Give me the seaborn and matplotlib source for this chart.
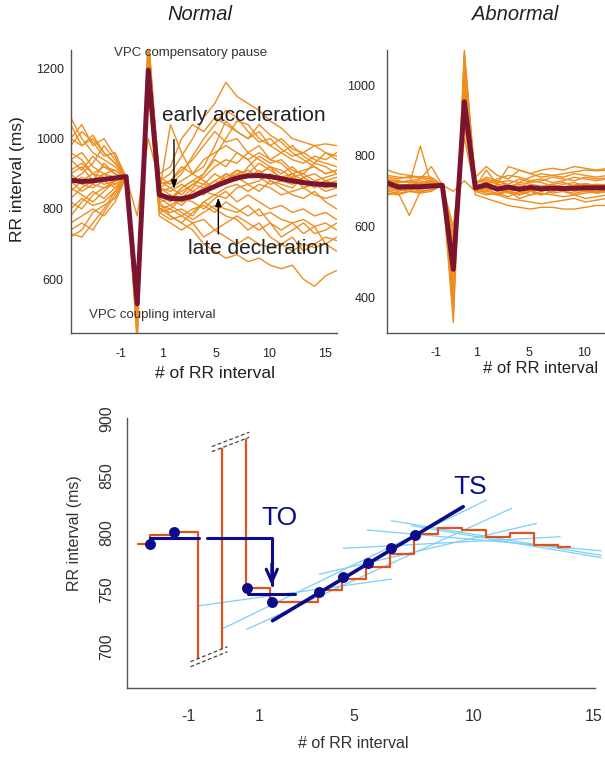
import numpy as np
import pandas as pd
import matplotlib
matplotlib.use("Agg")
import matplotlib.pyplot as plt
import seaborn as sns
from matplotlib.patches import Polygon

sns.set_style("white")
plt.rcParams["font.family"] = ["Liberation Sans", "DejaVu Sans"]

# ------------------------------------------------------------------ data
# top panels: RR interval index (0 = VPC coupling interval, 1 = compensatory pause)
normal_k = list(range(-6, 19))
normal_traces = [
    [1060, 1000, 960, 940, 920, 890, 430, 1290, 880, 900, 950, 1000, 1060, 1100, 1160, 1120, 1100, 1080, 1050, 1030, 1000, 990, 980, 985, 980],
    [1000, 980, 1010, 960, 930, 890, 470, 1270, 850, 1040, 960, 900, 920, 980, 1050, 1020, 1000, 1040, 1010, 990, 960, 940, 920, 900, 910],
    [900, 920, 880, 930, 900, 890, 500, 1210, 820, 780, 760, 740, 700, 680, 660, 670, 650, 660, 640, 630, 640, 600, 580, 610, 625],
    [730, 720, 760, 800, 850, 890, 540, 1180, 800, 780, 760, 790, 820, 800, 780, 770, 740, 760, 720, 700, 720, 680, 700, 720, 710],
    [850, 880, 900, 870, 880, 890, 560, 1150, 840, 820, 860, 880, 900, 940, 920, 960, 940, 900, 920, 880, 900, 860, 880, 870, 880],
    [940, 960, 920, 900, 910, 890, 420, 1300, 860, 840, 820, 850, 870, 860, 900, 880, 920, 950, 930, 940, 910, 900, 930, 920, 900],
    [820, 800, 840, 860, 870, 890, 510, 1200, 800, 790, 800, 780, 820, 840, 830, 860, 870, 850, 880, 860, 840, 830, 850, 820, 800],
    [880, 900, 930, 980, 940, 890, 460, 1240, 830, 810, 830, 860, 900, 950, 1000, 1050, 1040, 1000, 980, 960, 940, 930, 950, 940, 960],
    [760, 780, 800, 780, 820, 890, 530, 1170, 790, 770, 780, 800, 810, 790, 820, 800, 780, 800, 760, 740, 760, 730, 750, 700, 720],
    [900, 870, 860, 880, 860, 890, 780, 1000, 880, 860, 880, 900, 880, 860, 880, 900, 910, 890, 870, 880, 890, 860, 870, 880, 860],
    [980, 1020, 990, 950, 960, 890, 440, 1280, 870, 880, 910, 940, 980, 1020, 990, 1000, 960, 980, 940, 960, 980, 950, 930, 960, 940],
    [860, 840, 820, 850, 880, 890, 550, 1190, 820, 830, 810, 840, 860, 880, 870, 900, 890, 910, 880, 870, 860, 890, 870, 850, 860],
    [940, 910, 950, 920, 900, 890, 490, 1230, 850, 860, 840, 870, 890, 920, 940, 930, 960, 940, 920, 900, 920, 890, 900, 880, 870],
    [800, 830, 810, 820, 850, 890, 570, 1140, 810, 800, 830, 820, 800, 830, 850, 820, 840, 820, 800, 810, 790, 800, 780, 790, 770],
    [870, 890, 870, 900, 890, 890, 520, 1210, 860, 850, 870, 850, 840, 870, 890, 910, 890, 900, 920, 910, 890, 900, 880, 890, 900],
    [1040, 980, 1000, 960, 930, 890, 450, 1260, 890, 870, 900, 950, 1000, 1040, 1080, 1060, 1020, 990, 1000, 970, 950, 960, 940, 930, 920],
    [740, 760, 740, 790, 840, 890, 540, 1160, 780, 760, 740, 760, 720, 740, 760, 780, 760, 740, 760, 720, 740, 760, 730, 740, 760],
    [910, 930, 900, 890, 880, 890, 480, 1250, 850, 830, 860, 880, 870, 900, 880, 910, 900, 930, 910, 890, 900, 880, 860, 880, 890],
    [830, 860, 880, 900, 870, 890, 510, 1220, 830, 840, 820, 830, 850, 840, 860, 870, 850, 870, 860, 840, 850, 860, 840, 830, 840],
    [960, 940, 900, 920, 910, 890, 500, 1200, 860, 880, 920, 900, 940, 960, 980, 960, 940, 960, 940, 930, 900, 910, 920, 900, 910],
    [780, 820, 850, 830, 860, 890, 530, 1180, 800, 810, 790, 770, 790, 810, 800, 790, 810, 780, 790, 770, 760, 770, 750, 760, 740],
    [880, 850, 870, 860, 880, 890, 560, 1190, 840, 830, 850, 870, 860, 880, 900, 890, 870, 880, 900, 880, 870, 890, 870, 860, 870],
    [1000, 1040, 980, 1000, 950, 890, 470, 1250, 900, 920, 1000, 1040, 1020, 1060, 1040, 1020, 1000, 1020, 980, 1000, 970, 960, 980, 960, 950],
    [720, 740, 790, 810, 830, 890, 520, 1170, 790, 800, 780, 760, 770, 740, 720, 700, 720, 700, 690, 700, 680, 700, 690, 700, 680],
]
normal_mean = [882, 878, 880, 884, 888, 892, 530, 1195, 840, 830, 829, 836, 850, 864,
               877, 888, 894, 895, 892, 886, 880, 875, 871, 869, 868]

abn_k = list(range(-6, 15))
abn_traces = [
    [745, 740, 738, 742, 740, 718, 380, 1100, 720, 740, 730, 720, 735, 725, 730, 740, 735, 730, 740, 735, 738],
    [700, 695, 632, 700, 705, 718, 420, 1060, 700, 710, 690, 700, 695, 705, 690, 700, 710, 700, 705, 695, 700],
    [720, 715, 720, 828, 720, 718, 450, 1020, 715, 725, 710, 705, 715, 700, 710, 720, 710, 705, 700, 710, 705],
    [730, 725, 730, 735, 770, 718, 500, 980, 725, 730, 720, 770, 760, 750, 740, 745, 750, 755, 760, 758, 760],
    [690, 695, 700, 698, 705, 718, 540, 930, 690, 680, 670, 660, 655, 650, 655, 655, 650, 650, 655, 660, 660],
    [735, 730, 725, 720, 725, 718, 600, 880, 705, 700, 695, 700, 690, 700, 710, 695, 700, 705, 700, 695, 700],
    [710, 712, 708, 715, 710, 718, 470, 1000, 700, 710, 705, 695, 690, 700, 705, 710, 700, 695, 700, 705, 700],
    [760, 750, 745, 740, 735, 718, 350, 1090, 730, 725, 735, 745, 740, 730, 735, 725, 730, 740, 735, 730, 735],
    [700, 705, 710, 705, 712, 718, 700, 730, 700, 690, 695, 685, 700, 690, 695, 690, 685, 690, 680, 685, 690],
    [725, 720, 715, 725, 730, 718, 520, 950, 710, 720, 715, 710, 725, 720, 715, 710, 720, 725, 715, 720, 718],
    [715, 710, 705, 710, 715, 718, 560, 900, 705, 695, 690, 680, 675, 670, 665, 670, 675, 680, 670, 675, 680],
    [740, 735, 742, 738, 728, 718, 430, 1040, 712, 760, 720, 715, 710, 730, 725, 715, 712, 718, 722, 716, 720],
    [705, 700, 710, 700, 705, 718, 490, 960, 705, 700, 720, 700, 680, 690, 700, 710, 700, 690, 695, 700, 705],
    [730, 728, 725, 730, 722, 718, 330, 1080, 725, 735, 725, 730, 725, 740, 750, 745, 740, 750, 745, 740, 745],
    [695, 690, 700, 695, 700, 718, 580, 850, 700, 705, 710, 700, 705, 700, 690, 700, 705, 710, 700, 698, 702],
    [720, 725, 730, 722, 718, 718, 460, 990, 715, 720, 730, 715, 720, 710, 715, 720, 725, 715, 720, 718, 715],
    [710, 705, 700, 712, 716, 718, 400, 1030, 740, 770, 745, 735, 760, 750, 760, 765, 760, 770, 765, 760, 765],
]
abn_mean = [724, 712, 713, 713, 715, 717, 480, 953, 710, 718, 706, 712, 706, 711, 707,
            709, 708, 709, 710, 710, 710]

normal_tick_pos = [-1.49, 2.27, 7.08, 11.92, 16.95]
normal_tick_labels = ["-1", "1", "5", "10", "15"]
abn_tick_pos = [-1.57, 2.13, 6.9, 11.9]
abn_tick_labels = ["-1", "1", "5", "10"]

# bottom panel: schematic tachogram (step centres / RR values in ms)
rr_x = list(range(-4, 15))
rr_vals = [790, 797.8, 800.4, 560, 1150, 751, 739.5, 739.5, 749.6, 759, 770, 781,
           798.7, 804, 802, 796.5, 799.8, 789, 787.6]
dot_x = [-3.5, -2.5, 0.52, 1.56, 3.55, 4.55, 5.59, 6.55, 7.55]
dot_y = [790, 800.7, 751.7, 739.4, 748.2, 760.8, 773.6, 786.2, 797.8]
to_pre_mean = 795
to_post_mean = 746
ts_x = [1.6, 9.55]
ts_y = [722.8, 822.6]
lb_x0 = [-1.46, -0.46, 0.52, 3.55, 4.55, 5.55, 6.55, 7.4]
lb_y0 = [735.9, 716.0, 715.2, 763.5, 786.2, 802.2, 810.3, 806.0]
lb_x1 = [6.55, 10.53, 11.57, 12.61, 13.59, 15.3, 15.3, 15.3]
lb_y1 = [759.2, 828.5, 821.2, 808.0, 796.3, 784.0, 780.0, 778.0]
bottom_tick_pos = [-1.91, 1.05, 5, 10, 15]
bottom_tick_labels = ["-1", "1", "5", "10", "15"]

ORANGE = "#EE8E1F"
MAROON = "#7B1430"
STEP = "#E0521E"
NAVY = "#0B0B8C"
LIGHTBLUE = "#7DCFF6"
SPINE = "#555555"
TXT = "#222222"


def long_df(k, traces):
    rows = []
    for i, t in enumerate(traces):
        for kk, v in zip(k, t):
            rows.append((i, kk, v))
    return pd.DataFrame(rows, columns=["trace", "k", "rr"])


W, H = 605, 757
fig = plt.figure(figsize=(W / 100, H / 100), dpi=100)


def fig_rect(x0, y0, x1, y1):
    return [x0 / W, 1 - y1 / H, (x1 - x0) / W, (y1 - y0) / H]


ax1 = fig.add_axes(fig_rect(70.7, 50, 336.7, 332.7))
ax2 = fig.add_axes(fig_rect(387.3, 50, 686, 332.7))
ax3 = fig.add_axes(fig_rect(126.7, 418.3, 594.9, 688.3))

# ------------------------------------------------------------------ top panels
for ax, k, traces, mean, ticks, tlabels, ylim, yticks, xlim in [
    (ax1, normal_k, normal_traces, normal_mean, normal_tick_pos, normal_tick_labels,
     (448, 1252), [600, 800, 1000, 1200], (-6, 18)),
    (ax2, abn_k, abn_traces, abn_mean, abn_tick_pos, abn_tick_labels,
     (301, 1099), [400, 600, 800, 1000], (-6, 21.15)),
]:
    df = long_df(k, traces)
    sns.lineplot(data=df, x="k", y="rr", units="trace", estimator=None, color=ORANGE,
                 lw=1.0, ax=ax, legend=False)
    sns.lineplot(x=k, y=mean, color=MAROON, lw=3.6, ax=ax, solid_joinstyle="round",
                 solid_capstyle="round")
    ax.set_xlim(*xlim)
    ax.set_ylim(*ylim)
    ax.set_xticks(ticks)
    ax.set_xticklabels(tlabels)
    ax.set_yticks(yticks)
    for s in ["top", "right"]:
        ax.spines[s].set_visible(False)
    for s in ["left", "bottom"]:
        ax.spines[s].set_color(SPINE)
        ax.spines[s].set_linewidth(1.0)
    ax.tick_params(direction="in", length=3, width=0.8, color=SPINE, labelsize=9,
                   labelcolor="#262626")
    ax.tick_params(axis="x", pad=11)

ax1.tick_params(axis="y", pad=5)
ax2.tick_params(axis="y", pad=8.5)
ax2.tick_params(axis="x", pad=10)

ax1.set_xlabel("# of RR interval", fontsize=12.5, color=TXT, va="center")
ax1.xaxis.set_label_coords(0.5425, -0.1426)
ax1.set_ylabel("RR interval (ms)", fontsize=12.5, color=TXT, va="center")
ax1.yaxis.set_label_coords(-0.2008, 0.5447)
ax2.set_xlabel("# of RR interval", fontsize=12, color=TXT, va="center")
ax2.xaxis.set_label_coords(0.512, -0.126)
ax2.set_ylabel("")

fig.text(200 / W, 1 - 15 / H, "Normal", ha="center", va="center", style="italic",
         fontsize=14.5, color=TXT)
fig.text(515 / W, 1 - 15 / H, "Abnormal", ha="center", va="center", style="italic",
         fontsize=14.5, color=TXT)

ax1.text(-2.07, 1243, "VPC compensatory pause", fontsize=9.5, color="#333333",
         va="center", ha="left")
ax1.text(-4.32, 498, "VPC coupling interval", fontsize=9.5, color="#333333",
         va="center", ha="left")
ax1.text(2.21, 1067, "early acceleration", fontsize=15, color=TXT, va="center", ha="left")
ax1.text(4.61, 688, "late decleration", fontsize=15, color=TXT, va="center", ha="left")
ax1.annotate("", xy=(3.32, 849), xytext=(3.32, 1005),
             arrowprops=dict(arrowstyle="-|>,head_length=0.5,head_width=0.18", color="black", lw=1))
ax1.annotate("", xy=(7.32, 840), xytext=(7.32, 721),
             arrowprops=dict(arrowstyle="-|>,head_length=0.5,head_width=0.18", color="black", lw=1))

# ------------------------------------------------------------------ bottom panel
ax3.set_xlim(-4.48, 15.04)
ax3.set_ylim(663.6, 900)

# light blue local regression lines
for x0, y0, x1, y1 in zip(lb_x0, lb_y0, lb_x1, lb_y1):
    ax3.plot([x0, x1], [y0, y1], color=LIGHTBLUE, lw=0.9, clip_on=False, zorder=2)

# tachogram steps, with broken (cut) coupling / pause bars
lowA, lowB = (-1.82, 686.9), (-0.28, 700.0)
upA, upB = (-0.93, 870.8), (0.63, 883.4)
clip_poly = [(-10, 600), (lowA[0], 600), lowA, lowB, (lowB[0], 600), (20, 600), (20, 1000),
             (upB[0], 1000), upB, upA, (upA[0], 1000), (-10, 1000)]
clip_patch = Polygon(clip_poly, closed=True, transform=ax3.transData)
step_line, = ax3.step(rr_x, rr_vals, where="mid", color=STEP, lw=1.6, zorder=3)
step_line.set_clip_path(clip_patch)

# break marks
dy = 4.4
for (a, b) in [(lowA, lowB), (upA, upB)]:
    sgn = -1 if a is lowA else 1
    for off in (0, sgn * dy):
        ax3.plot([a[0], b[0]], [a[1] + off, b[1] + off], color="#444444", lw=0.9,
                 ls=(0, (3, 2)), zorder=3)

# TO construction
ax3.plot([dot_x[0], -1.46], [to_pre_mean, to_pre_mean], color=NAVY, lw=2.2, zorder=4)
ax3.plot([-1.15, 1.57, 1.57], [to_pre_mean, to_pre_mean, to_post_mean + 8], color=NAVY,
         lw=2.2, zorder=4)
ax3.annotate("", xy=(1.57, dot_y[2] - 0.5), xytext=(1.57, to_pre_mean - 20),
             arrowprops=dict(arrowstyle="->,head_length=0.9,head_width=0.4", color=NAVY, lw=2.2),
             zorder=4)
ax3.plot([dot_x[2] + 0.05, 2.55], [to_post_mean, to_post_mean], color=NAVY, lw=2.2, zorder=4)

# TS line
sns.lineplot(x=ts_x, y=ts_y, color=NAVY, lw=2.6, ax=ax3, zorder=5)

# dots
sns.scatterplot(x=dot_x, y=dot_y, color=NAVY, s=62, edgecolor=NAVY, linewidth=0, ax=ax3,
                zorder=6)

ax3.text(1.15, 812.4, "TO", fontsize=19, color=NAVY, va="center", ha="left")
ax3.text(9.14, 840.1, "TS", fontsize=19, color=NAVY, va="center", ha="left")

ax3.set_xticks(bottom_tick_pos)
ax3.set_xticklabels(bottom_tick_labels)
ax3.set_yticks([700, 750, 800, 850, 900])
for s in ["top", "right"]:
    ax3.spines[s].set_visible(False)
for s in ["left", "bottom"]:
    ax3.spines[s].set_color(SPINE)
    ax3.spines[s].set_linewidth(1.0)
ax3.tick_params(direction="out", length=7, width=0.9, color=SPINE, labelsize=11.5,
                labelcolor="#333333")
ax3.tick_params(axis="x", pad=8)
ax3.tick_params(axis="y", pad=2, labelrotation=90)
for lab in ax3.get_yticklabels():
    lab.set_va("center")
ax3.set_xlabel("# of RR interval", fontsize=11.5, color="#333333", va="center")
ax3.xaxis.set_label_coords(0.4848, -0.2037)
ax3.set_ylabel("RR interval (ms)", fontsize=11.5, color="#333333", va="center")
ax3.yaxis.set_label_coords(-0.1115, 0.575)

fig.savefig("out.png", dpi=100)
